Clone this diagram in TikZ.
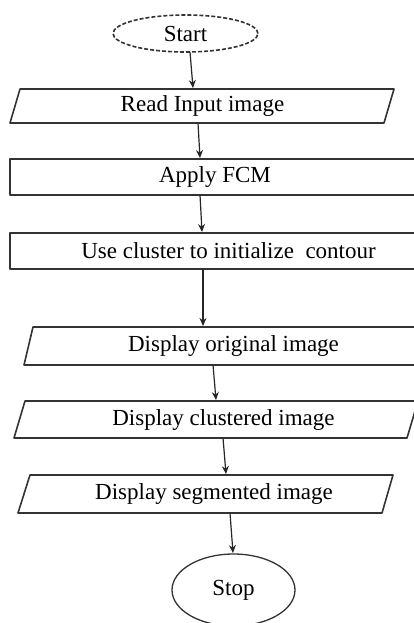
\documentclass[tikz,border=0pt]{standalone}
\usepackage{fontspec}
\setmainfont{Liberation Serif}
\usetikzlibrary{shapes.geometric,arrows.meta}
\tikzset{
  x=1pt, y=-1pt,
  outline/.style={draw=black!80, line width=1.6pt, line join=round},
  txt/.style={font=\fontsize{23}{23}\selectfont, inner sep=0pt, anchor=center},
  arr/.style={draw=black!85, line width=1.2pt, -{Stealth[length=8pt,width=7pt]}},
  terminal/.style={ellipse, outline, inner sep=0pt, font=\fontsize{23}{23}\selectfont},
}
\begin{document}
\begin{tikzpicture}
\useasboundingbox (0,0) rectangle (414,623);
\clip (0,0) rectangle (414,623);

% terminals
\node[terminal, dashed, dash pattern=on 4pt off 2pt, minimum width=145pt, minimum height=37pt] (start) at (185.5,33.5) {Start};
\node[terminal, line width=1.3pt, minimum width=123pt, minimum height=72pt] (stop) at (233.5,590) {Stop};

% input / output and process boxes
\draw[outline] (20,89) -- (394,89) -- (384,123) -- (10,123) -- cycle;
\node[txt] (read) at (202.5,106) {Read Input image};

\draw[outline] (430,159) -- (10,159) -- (10,195) -- (430,195);
\node[txt] (fcm) at (215,177) {Apply FCM};

\draw[outline] (430,233) -- (10,233) -- (10,269) -- (430,269);
\node[txt] (init) at (228.5,251) {Use cluster to initialize \ contour};

\draw[outline] (430,327) -- (33,327) -- (24,365) -- (430,365);
\node[txt] (orig) at (233.5,346) {Display original image};

\draw[outline] (418,401) -- (25,401) -- (14,438) -- (407,438) -- cycle;
\node[txt] (clus) at (223.5,419.5) {Display clustered image};

\draw[outline] (30,475) -- (393,475) -- (382,513) -- (18,513) -- cycle;
\node[txt] (seg) at (214,494) {Display segmented image};

% connector end points on the box edges
\coordinate (start-out) at (190,52);
\coordinate (read-in) at (193,88);
\coordinate (read-out) at (198,123);
\coordinate (fcm-in) at (200,158);
\coordinate (fcm-out) at (200,195);
\coordinate (init-in) at (202,232);
\coordinate (init-out) at (203,269);
\coordinate (orig-in) at (203,326);
\coordinate (orig-out) at (213,365);
\coordinate (clus-in) at (216,400);
\coordinate (clus-out) at (223,438);
\coordinate (seg-in) at (226,474);
\coordinate (seg-out) at (230,513);
\coordinate (stop-in) at (233,553);

\draw[arr] (start-out) -- (read-in);
\draw[arr] (read-out) -- (fcm-in);
\draw[arr] (fcm-out) -- (init-in);
\draw[arr] (init-out) -- (orig-in);
\draw[arr] (orig-out) -- (clus-in);
\draw[arr] (clus-out) -- (seg-in);
\draw[arr] (seg-out) -- (stop-in);
\end{tikzpicture}
\end{document}
